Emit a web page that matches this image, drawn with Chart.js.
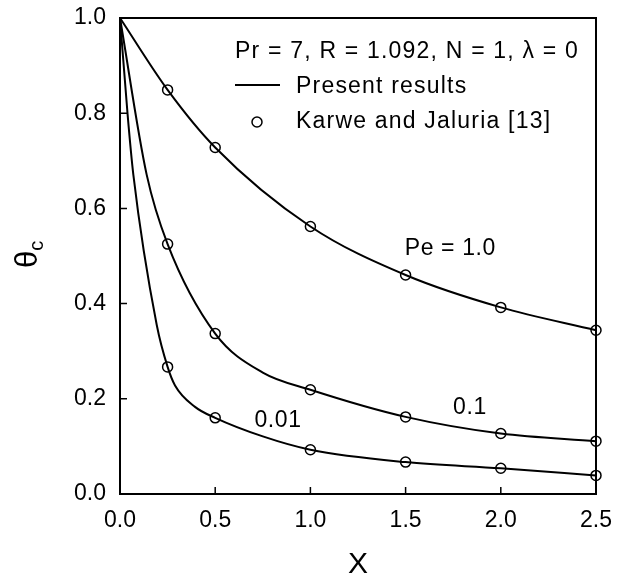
<!DOCTYPE html>
<html>
<head>
<meta charset="utf-8">
<script src="https://cdn.jsdelivr.net/npm/chart.js@4.4.0/dist/chart.umd.min.js"></script>
<style>
  html, body { margin: 0; padding: 0; background: #fff; }
  #wrap { width: 630px; height: 580px; }
</style>
</head>
<body>
<div id="wrap"><canvas id="myChart" width="630" height="580"></canvas></div>
<script>
// Karwe and Jaluria [13] points
var refX = [0.25, 0.5, 1.0, 1.5, 2.0, 2.5];
var refPe1 = [0.849, 0.728, 0.562, 0.460, 0.392, 0.344];
var refPe01 = [0.525, 0.337, 0.219, 0.162, 0.127, 0.111];
var refPe001 = [0.267, 0.160, 0.093, 0.067, 0.054, 0.039];

// present results
var curvePe1X = [0, 0.25, 0.5, 1.0, 1.5, 2.0, 2.5];
var curvePe1Y = [1.0, 0.849, 0.728, 0.562, 0.460, 0.392, 0.344];
var curvePe01X = [0, 0.14, 0.25, 0.5, 0.75, 1.0, 1.5, 2.0, 2.5];
var curvePe01Y = [1.0, 0.671, 0.525, 0.337, 0.255, 0.219, 0.162, 0.127, 0.111];
var curvePe001X = [0, 0.04, 0.07, 0.193, 0.25, 0.289, 0.394, 0.5, 0.75, 1.0, 1.5, 2.0, 2.5];
var curvePe001Y = [1.0, 0.797, 0.671, 0.355, 0.267, 0.228, 0.183, 0.160, 0.121, 0.093, 0.067, 0.054, 0.039];

var xTicks = [0, 0.5, 1.0, 1.5, 2.0, 2.5];
var yTicks = [0, 0.2, 0.4, 0.6, 0.8, 1.0];

var curveLabels = ['Pe = 1.0', '0.1', '0.01'];
var curveLabelX = [1.735, 1.838, 0.830];
var curveLabelY = [0.502, 0.169, 0.140];

var legendTitle = 'Pr = 7, R = 1.092, N = 1, \u03bb = 0';
var legendLine = 'Present results';
var legendMark = 'Karwe and Jaluria [13]';

var font = '"Liberation Sans", Arial, Helvetica, sans-serif';

function pts(xs, ys) {
  var out = [];
  for (var i = 0; i < xs.length; i++) out.push({x: xs[i], y: ys[i]});
  return out;
}

function curve(xs, ys) {
  return {
    data: pts(xs, ys),
    showLine: true,
    borderColor: '#000',
    borderWidth: 2,
    pointRadius: 0,
    cubicInterpolationMode: 'monotone',
    clip: false
  };
}

function marks(ys) {
  return {
    data: pts(refX, ys),
    showLine: false,
    pointStyle: 'circle',
    pointRadius: 5,
    pointBorderWidth: 1.5,
    pointBorderColor: '#000',
    pointBackgroundColor: 'rgba(0,0,0,0)',
    clip: false
  };
}

var framePlugin = {
  id: 'frame',
  afterDraw: function (chart) {
    var ctx = chart.ctx,
        a = chart.chartArea,
        xs = chart.scales.x,
        ys = chart.scales.y;
    ctx.save();
    ctx.strokeStyle = '#000';
    ctx.lineWidth = 2;
    ctx.strokeRect(a.left, a.top, a.right - a.left, a.bottom - a.top);

    // inward ticks
    ctx.lineWidth = 1.5;
    ctx.beginPath();
    xTicks.forEach(function (v) {
      var px = xs.getPixelForValue(v);
      ctx.moveTo(px, a.bottom);
      ctx.lineTo(px, a.bottom - 7);
    });
    yTicks.forEach(function (v) {
      var py = ys.getPixelForValue(v);
      ctx.moveTo(a.left, py);
      ctx.lineTo(a.left + 7, py);
    });
    ctx.stroke();

    // curve labels
    ctx.fillStyle = '#000';
    ctx.font = '23px ' + font;
    ctx.letterSpacing = '0.6px';
    ctx.textAlign = 'center';
    ctx.textBaseline = 'alphabetic';
    for (var i = 0; i < curveLabels.length; i++) {
      ctx.fillText(curveLabels[i], xs.getPixelForValue(curveLabelX[i]), ys.getPixelForValue(curveLabelY[i]));
    }

    // legend
    ctx.letterSpacing = '1.2px';
    ctx.textAlign = 'left';
    ctx.fillText(legendTitle, 235, 58);
    ctx.lineWidth = 2;
    ctx.beginPath();
    ctx.moveTo(235, 85);
    ctx.lineTo(280, 85);
    ctx.stroke();
    ctx.fillText(legendLine, 296, 93);
    ctx.lineWidth = 1.5;
    ctx.beginPath();
    ctx.arc(257, 122, 5, 0, Math.PI * 2);
    ctx.stroke();
    ctx.fillText(legendMark, 296, 128);
    ctx.letterSpacing = '0px';

    // y axis title: theta with subscript c
    ctx.translate(37, 268);
    ctx.rotate(-Math.PI / 2);
    ctx.font = '31px ' + font;
    ctx.fillText('\u03b8', 0, 0);
    var w = ctx.measureText('\u03b8').width;
    ctx.font = '20px ' + font;
    ctx.fillText('c', w, 6);
    ctx.restore();
  }
};

var ctx = document.getElementById('myChart').getContext('2d');
var myChart = new Chart(ctx, {
  type: 'scatter',
  data: {
    datasets: [
      curve(curvePe1X, curvePe1Y),
      curve(curvePe01X, curvePe01Y),
      curve(curvePe001X, curvePe001Y),
      marks(refPe1),
      marks(refPe01),
      marks(refPe001)
    ]
  },
  options: {
    responsive: false,
    animation: false,
    layout: { padding: { top: 18, right: 34, left: 0, bottom: 0 } },
    plugins: {
      legend: { display: false },
      tooltip: { enabled: false }
    },
    scales: {
      x: {
        type: 'linear',
        min: 0,
        max: 2.5,
        afterFit: function (s) {
          s.height = 86;
          s.paddingLeft = 0;
          s.paddingRight = 0;
        },
        afterBuildTicks: function (s) { s.ticks = xTicks.map(function (v) { return {value: v}; }); },
        ticks: {
          color: '#000',
          padding: 13,
          maxRotation: 0,
          font: { family: font, size: 23 },
          callback: function (v) { return Number(v).toFixed(1); }
        },
        grid: { display: false, drawTicks: false },
        border: { display: false },
        title: {
          display: true,
          text: 'X',
          color: '#000',
          font: { family: font, size: 30, lineHeight: 1 },
          padding: 0
        }
      },
      y: {
        type: 'linear',
        min: 0,
        max: 1.0,
        afterFit: function (s) {
          s.width = 120;
          s.paddingTop = 0;
          s.paddingBottom = 0;
        },
        afterBuildTicks: function (s) { s.ticks = yTicks.map(function (v) { return {value: v}; }); },
        ticks: {
          color: '#000',
          padding: 14,
          font: { family: font, size: 23 },
          callback: function (v) { return Number(v).toFixed(1); }
        },
        grid: { display: false, drawTicks: false },
        border: { display: false }
      }
    }
  },
  plugins: [framePlugin]
});
</script>
</body>
</html>
